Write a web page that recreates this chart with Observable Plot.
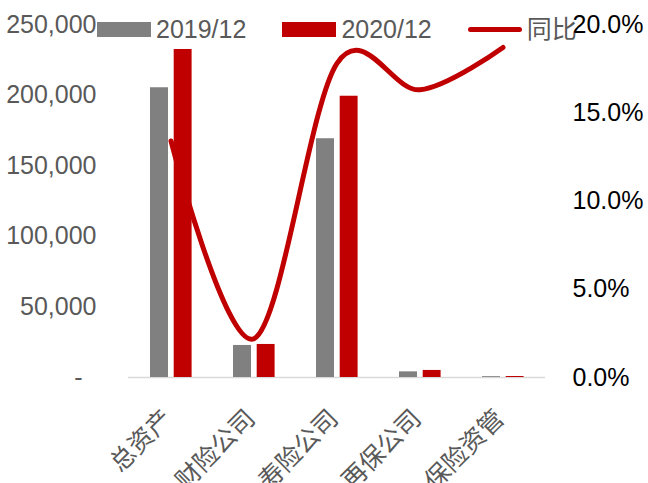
<!DOCTYPE html>
<html>
<head>
<meta charset="utf-8">
<script src="https://cdn.jsdelivr.net/npm/d3@7"></script>
<script src="https://cdn.jsdelivr.net/npm/@observablehq/plot@0.6"></script>
<style>
  html, body { margin: 0; padding: 0; background: #fff; }
  #wrap { position: relative; width: 648px; height: 483px; font-family: "Liberation Sans", "Noto Sans CJK SC", sans-serif; }
  #legend { position: absolute; left: 97px; top: 14px; display: flex; align-items: center; height: 30px; }
  .item { display: flex; align-items: center; margin-right: 36px; }
  .item:last-child { margin-right: 0; }
  .sw { width: 54px; height: 15px; }
  .sw.line { height: 5px; border-radius: 3px; }
  .lab { margin-left: 5px; font-size: 25px; color: #595959; line-height: 30px; }
</style>
</head>
<body>
<div id="wrap"><div id="legend"></div></div>
<script>
const categories = ["总资产", "财险公司", "寿险公司", "再保公司", "保险资管"];
const values2019 = [205200, 22700, 169100, 4000, 600];
const values2020 = [232300, 23400, 199200, 5000, 700];
const yoyPct = [13.4, 2.2, 17.8, 16.3, 18.7];
const leftTicks = [0, 50000, 100000, 150000, 200000, 250000];
const rightTicks = [0, 5, 10, 15, 20];
const seriesNames = ["2019/12", "2020/12", "同比"];
const seriesColors = ["#808080", "#c00000", "#c00000"];

const pctToLeft = d3.scaleLinear([0, 20], [0, 250000]);

const rows2019 = categories.map((c, i) => ({cat: c, value: values2019[i]}));
const rows2020 = categories.map((c, i) => ({cat: c, value: values2020[i]}));
const rowsYoy = categories.map((c, i) => ({cat: c, pct: yoyPct[i]}));

const chart = Plot.plot({
  width: 648,
  height: 483,
  marginLeft: 128,
  marginRight: 103,
  marginTop: 24,
  marginBottom: 106,
  style: {fontFamily: '"Liberation Sans", "Noto Sans CJK SC", sans-serif', background: "#fff", overflow: "visible"},
  x: {domain: categories, padding: 0, axis: null},
  y: {domain: [0, 250000], axis: null},
  marks: [
    Plot.ruleY([0], {stroke: "#d9d9d9", strokeWidth: 1.5}),
    Plot.barY(rows2019, {x: "cat", y: "value", fill: seriesColors[0], insetLeft: 21, insetRight: 44}),
    Plot.barY(rows2020, {x: "cat", y: "value", fill: seriesColors[1], insetLeft: 44.7, insetRight: 20.4}),
    Plot.line(rowsYoy, {x: "cat", y: d => pctToLeft(d.pct), stroke: seriesColors[2], strokeWidth: 5, curve: "cardinal", strokeLinecap: "round"}),
    Plot.axisY(leftTicks, {anchor: "left", label: null, tickSize: 0, tickPadding: 32, fontSize: 25, fill: "#595959",
      tickFormat: d => d === 0 ? "-\u00a0\u00a0" : d3.format(",")(d)}),
    Plot.axisY(rightTicks.map(pctToLeft), {anchor: "right", label: null, tickSize: 0, tickPadding: 27, fontSize: 25, fill: "#000",
      tickFormat: d => pctToLeft.invert(d).toFixed(1) + "%"}),
    Plot.axisX(categories, {anchor: "bottom", label: null, tickSize: 0, tickPadding: 37, tickRotate: -45, fontSize: 25, fill: "#595959", dx: -3})
  ]
});
document.getElementById("wrap").appendChild(chart);

const legend = document.getElementById("legend");
seriesNames.forEach((name, i) => {
  const item = document.createElement("div");
  item.className = "item";
  const sw = document.createElement("div");
  sw.className = "sw" + (i === 2 ? " line" : "");
  sw.style.background = seriesColors[i];
  const lab = document.createElement("span");
  lab.className = "lab";
  lab.textContent = name;
  item.appendChild(sw);
  item.appendChild(lab);
  legend.appendChild(item);
});
</script>
</body>
</html>
